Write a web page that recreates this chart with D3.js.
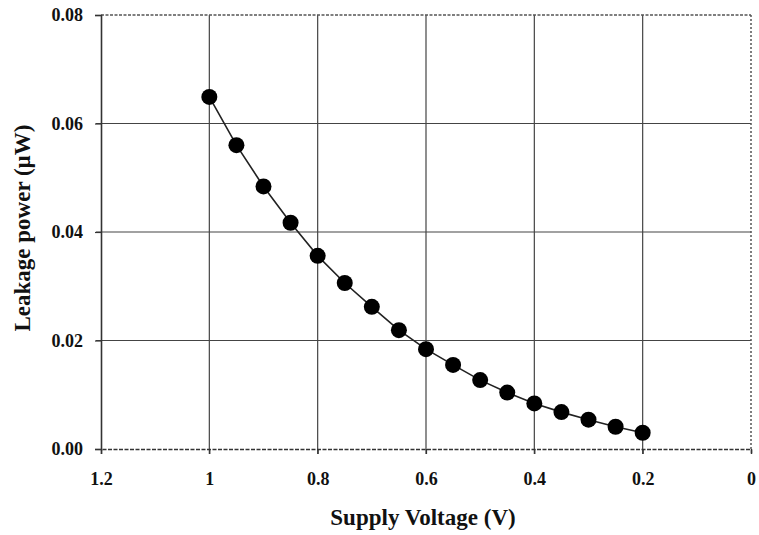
<!DOCTYPE html>
<html><head><meta charset="utf-8">
<script src="https://cdn.jsdelivr.net/npm/d3@7"></script>
<style>body{margin:0;background:#fff}</style>
</head><body>
<svg id="c" width="759" height="535"></svg>
<script>
const voltage = [1.0,0.95,0.9,0.85,0.8,0.75,0.7,0.65,0.6,0.55,0.5,0.45,0.4,0.35,0.3,0.25,0.2];
const leakage = [0.0649,0.0560,0.0484,0.0417,0.0356,0.0306,0.0262,0.0219,0.0184,0.0155,0.0127,0.0104,0.0084,0.0068,0.0054,0.0041,0.0030];
const xTicks = [1.2,1,0.8,0.6,0.4,0.2,0];
const yTicks = [0,0.02,0.04,0.06,0.08];
const xTickLabels = ["1.2","1","0.8","0.6","0.4","0.2","0"];
const yTickLabels = ["0.00","0.02","0.04","0.06","0.08"];

const svg = d3.select("#c");
const L=101, R=751, T=15, B=449;
const x = d3.scaleLinear().domain([1.2,0]).range([L,R]);
const y = d3.scaleLinear().domain([0,0.08]).range([B,T]);
const font = "'Liberation Serif','Times New Roman',serif";

// grid
const g = svg.append("g");
g.selectAll(".vg").data(xTicks.slice(1,-1)).join("line")
  .attr("x1",d=>x(d)).attr("x2",d=>x(d)).attr("y1",T).attr("y2",B+5)
  .attr("stroke","#444").attr("stroke-width",1.2);
g.selectAll(".hg").data(yTicks.slice(1,-1)).join("line")
  .attr("x1",L-5).attr("x2",R).attr("y1",d=>y(d)).attr("y2",d=>y(d))
  .attr("stroke","#444").attr("stroke-width",1.2);
// top and right dotted border
g.append("line").attr("x1",L).attr("x2",R).attr("y1",T).attr("y2",T)
  .attr("stroke","#555").attr("stroke-width",1.5).attr("stroke-dasharray","3,1.5");
g.append("line").attr("x1",R).attr("x2",R).attr("y1",T).attr("y2",B)
  .attr("stroke","#555").attr("stroke-width",1.5).attr("stroke-dasharray","2,2");

// axes
const xAxis = d3.axisBottom(x).tickValues(xTicks).tickFormat((d,i)=>xTickLabels[i]).tickSize(5).tickPadding(18);
const yAxis = d3.axisLeft(y).tickValues(yTicks).tickFormat((d,i)=>yTickLabels[i]).tickSize(6).tickPadding(12);
const gx = svg.append("g").attr("transform",`translate(0,${B})`).call(xAxis);
const gy = svg.append("g").attr("transform",`translate(${L},0)`).call(yAxis);
[gx,gy].forEach(a=>{
  a.select(".domain").attr("stroke","#333").attr("stroke-width",1.6);
  a.selectAll(".tick line").attr("stroke","#333").attr("stroke-width",1.2);
  a.selectAll("text").attr("font-family",font).attr("font-weight","bold").attr("font-size",18).attr("fill","#111");
});
gx.select(".domain").attr("stroke-dasharray","4,1.5");

// line + markers
const pts = voltage.map((v,i)=>[v,leakage[i]]);
svg.append("path").datum(pts)
  .attr("d",d3.line().x(d=>x(d[0])).y(d=>y(d[1])))
  .attr("fill","none").attr("stroke","#222").attr("stroke-width",1.6);
svg.selectAll(".pt").data(pts).join("circle")
  .attr("cx",d=>x(d[0])).attr("cy",d=>y(d[1])).attr("r",8).attr("fill","#000");

// labels
svg.append("text").attr("x",423).attr("y",525).attr("text-anchor","middle")
  .attr("font-family",font).attr("font-weight","bold").attr("font-size",23).attr("fill","#111")
  .text("Supply Voltage (V)");
svg.append("text").attr("transform",`translate(30,228) rotate(-90)`).attr("text-anchor","middle")
  .attr("font-family",font).attr("font-weight","bold").attr("font-size",23).attr("fill","#111")
  .text("Leakage power (µW)");
</script>
</body></html>
